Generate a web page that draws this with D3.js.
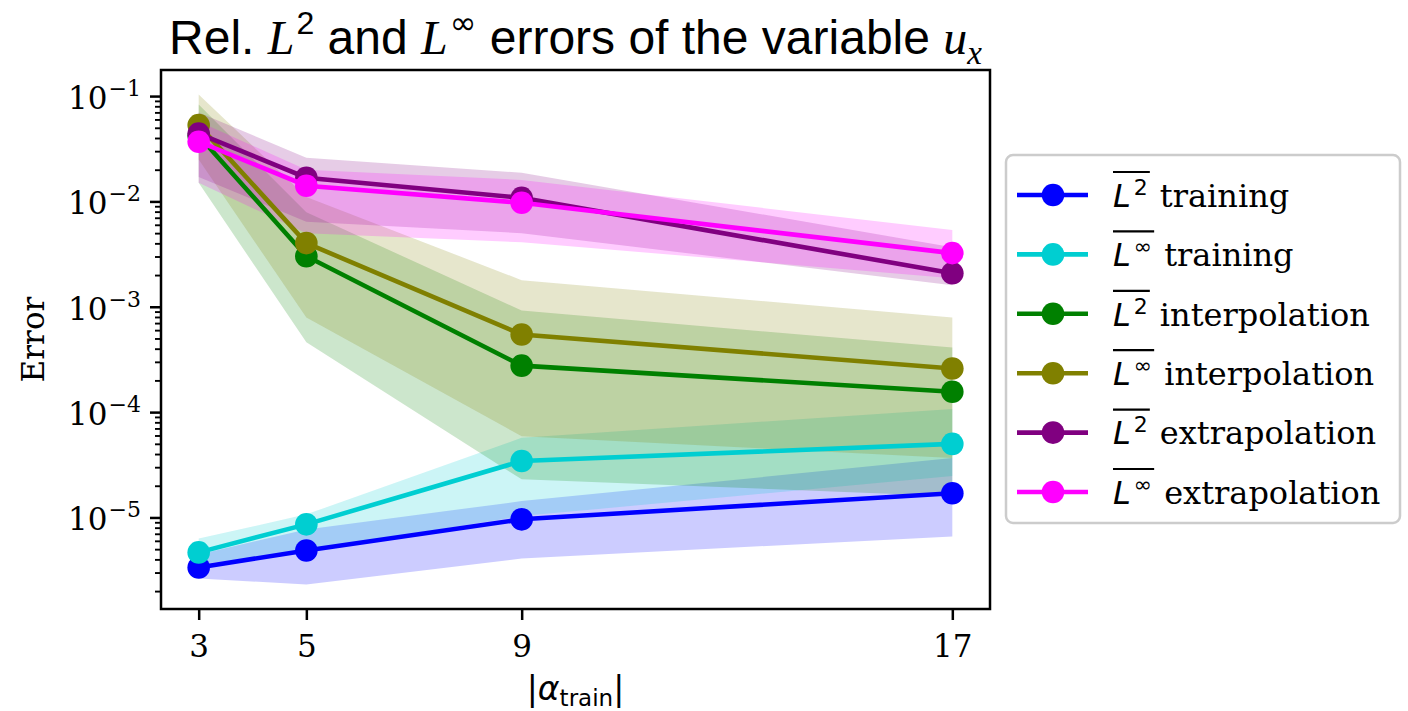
<!DOCTYPE html>
<html><head><meta charset="utf-8">
<script src="https://cdn.jsdelivr.net/npm/d3@7"></script>
<style>body{margin:0;background:#fff}</style>
</head><body>
<svg id="chart" width="1408" height="711" xmlns="http://www.w3.org/2000/svg"></svg>
<script>
// ---------------- data ----------------
const categories = [3, 5, 9, 17];
const xTickLabels = ["3", "5", "9", "17"];
const yTickExponents = [-1, -2, -3, -4, -5];
const seriesKinds = ["training", "training", "interpolation", "interpolation", "extrapolation", "extrapolation"];
const seriesNorms = ["2", "∞", "2", "∞", "2", "∞"];
const seriesColors = ["#0000ff", "#00ced1", "#008000", "#808000", "#800080", "#ff00ff"];

const l2Train      = [3.35e-6, 4.86e-6, 9.6e-6, 1.70e-5];
const l2TrainLo    = [2.63e-6, 2.31e-6, 4.08e-6, 6.6e-6];
const l2TrainHi    = [4.46e-6, 7.7e-6, 1.43e-5, 3.66e-5];

const linfTrain    = [4.66e-6, 8.6e-6, 3.43e-5, 4.99e-5];
const linfTrainLo  = [3.58e-6, 4.86e-6, 1.03e-5, 2.47e-5];
const linfTrainHi  = [6.3e-6, 1.07e-5, 5.7e-5, 1.07e-4];

const l2Interp     = [0.042, 3.02e-3, 2.76e-4, 1.56e-4];
const l2InterpLo   = [0.015, 4.6e-4, 2.3e-5, 1.59e-5];
const l2InterpHi   = [0.083, 7.9e-3, 9.2e-4, 4.1e-4];

const linfInterp   = [0.053, 4.02e-3, 5.46e-4, 2.59e-4];
const linfInterpLo = [0.025, 7.9e-4, 5.9e-5, 3.66e-5];
const linfInterpHi = [0.1035, 0.011, 1.79e-3, 7.9e-4];

const l2Extrap     = [0.044, 0.0168, 0.0108, 2.08e-3];
const l2ExtrapLo   = [0.0171, 6.4e-3, 5.0e-3, 1.6e-3];
const l2ExtrapHi   = [0.0697, 0.026, 0.0187, 3.68e-3];

const linfExtrap   = [0.0369, 0.0141, 9.7e-3, 3.23e-3];
const linfExtrapLo = [0.015, 5.0e-3, 4.1e-3, 1.87e-3];
const linfExtrapHi = [0.0573, 0.020, 0.016, 5.35e-3];

// table built from arrays
const series = [
  [l2Train, l2TrainLo, l2TrainHi],
  [linfTrain, linfTrainLo, linfTrainHi],
  [l2Interp, l2InterpLo, l2InterpHi],
  [linfInterp, linfInterpLo, linfInterpHi],
  [l2Extrap, l2ExtrapLo, l2ExtrapHi],
  [linfExtrap, linfExtrapLo, linfExtrapHi]
].map((s, i) => ({
  color: seriesColors[i], norm: seriesNorms[i], kind: seriesKinds[i],
  pts: categories.map((c, j) => ({x: c, v: s[0][j], lo: s[1][j], hi: s[2][j]}))
}));

// ---------------- layout ----------------
const L = 161, R = 990, T = 70, B = 609;
const svg = d3.select("#chart");

const xMin = d3.min(categories), xMax = d3.max(categories);
const xPad = 0.05 * (xMax - xMin);
const x = d3.scaleLinear().domain([xMin - xPad, xMax + xPad]).range([L, R]);

const allVals = series.flatMap(s => s.pts.flatMap(p => [p.lo, p.hi, p.v]));
const lMin = Math.log10(d3.min(allVals)), lMax = Math.log10(d3.max(allVals));
const lPad = 0.05 * (lMax - lMin);
const y = d3.scaleLog().domain([Math.pow(10, lMin - lPad), Math.pow(10, lMax + lPad)]).range([B, T]);

// clip
svg.append("defs").append("clipPath").attr("id", "clip")
  .append("rect").attr("x", L).attr("y", T).attr("width", R - L).attr("height", B - T);

const plot = svg.append("g").attr("clip-path", "url(#clip)");

// bands
const area = d3.area().x(d => x(d.x)).y0(d => y(d.lo)).y1(d => y(d.hi));
series.forEach(s => {
  plot.append("path").datum(s.pts).attr("d", area)
    .attr("fill", s.color).attr("fill-opacity", 0.2).attr("stroke", "none");
});
// lines + markers
const line = d3.line().x(d => x(d.x)).y(d => y(d.v));
series.forEach(s => {
  const g = plot.append("g");
  g.append("path").datum(s.pts).attr("d", line)
    .attr("fill", "none").attr("stroke", s.color).attr("stroke-width", 4.6);
  g.selectAll("circle").data(s.pts).join("circle")
    .attr("cx", d => x(d.x)).attr("cy", d => y(d.v)).attr("r", 11.3)
    .attr("fill", s.color);
});

// frame
svg.append("rect").attr("x", L).attr("y", T).attr("width", R - L).attr("height", B - T)
  .attr("fill", "none").attr("stroke", "#000").attr("stroke-width", 2.5);

// x axis
const xAxis = svg.append("g").attr("transform", `translate(0,${B})`)
  .call(d3.axisBottom(x).tickValues(categories).tickSize(11).tickPadding(15)
    .tickFormat((d, i) => xTickLabels[i]));
xAxis.select(".domain").remove();
xAxis.selectAll(".tick line").attr("stroke-width", 2.5);
xAxis.selectAll(".tick text").attr("font-family", "DejaVu Serif").attr("font-size", 31).attr("fill", "#000");

// y axis major
const majorVals = yTickExponents.map(e => Math.pow(10, e));
const yAxis = svg.append("g").attr("transform", `translate(${L},0)`)
  .call(d3.axisLeft(y).tickValues(majorVals).tickSize(11).tickFormat(""));
yAxis.select(".domain").remove();
yAxis.selectAll(".tick line").attr("stroke-width", 2.5);

// minor ticks
const [d0, d1] = y.domain();
const minorVals = [];
for (let e = Math.floor(Math.log10(d0)); e <= Math.ceil(Math.log10(d1)); e++) {
  for (let k = 2; k <= 9; k++) {
    const v = k * Math.pow(10, e);
    if (v >= d0 && v <= d1) minorVals.push(v);
  }
}
const yMinor = svg.append("g").attr("transform", `translate(${L},0)`)
  .call(d3.axisLeft(y).tickValues(minorVals).tickSize(6).tickFormat(""));
yMinor.select(".domain").remove();
yMinor.selectAll(".tick line").attr("stroke-width", 1.9);

// y tick labels 10^{e}
yTickExponents.forEach(e => {
  const yy = y(Math.pow(10, e));
  const t = svg.append("text").attr("x", 141).attr("y", yy + 13)
    .attr("text-anchor", "end").attr("font-family", "DejaVu Serif").attr("font-size", 31).attr("fill", "#000");
  t.append("tspan").text("10");
  t.append("tspan").attr("dy", -13).attr("dx", 1).attr("font-size", 22).text("\u2212" + Math.abs(e));
});

// axis labels
svg.append("text").attr("transform", `translate(44,${(T + B) / 2}) rotate(-90)`)
  .attr("text-anchor", "middle").attr("font-family", "DejaVu Serif").attr("font-size", 31).text("Error");

const xl = svg.append("text").attr("x", (L + R) / 2).attr("y", 700).attr("text-anchor", "middle")
  .attr("font-family", "DejaVu Sans").attr("font-size", 33);
xl.append("tspan").text("|");
xl.append("tspan").attr("font-style", "italic").text("α");
xl.append("tspan").attr("font-size", 23).attr("dy", 6).text("train");
xl.append("tspan").attr("dy", -6).text("|");

// title
const tt = svg.append("text").attr("x", (L + R) / 2).attr("y", 54).attr("text-anchor", "middle")
  .attr("font-family", "Liberation Sans").attr("font-size", 48).attr("fill", "#000");
tt.append("tspan").text("Rel. ");
tt.append("tspan").attr("font-family", "Liberation Serif").attr("font-style", "italic").text("L");
tt.append("tspan").attr("font-size", 32).attr("dy", -20).attr("dx", 2).text("2");
tt.append("tspan").attr("dy", 20).text(" and ");
tt.append("tspan").attr("font-family", "Liberation Serif").attr("font-style", "italic").text("L");
tt.append("tspan").attr("font-size", 32).attr("dy", -20).attr("dx", 2).attr("font-family", "DejaVu Sans").text("∞");
tt.append("tspan").attr("dy", 20).text(" errors of the variable ");
tt.append("tspan").attr("font-family", "Liberation Serif").attr("font-style", "italic").text("u");
tt.append("tspan").attr("font-family", "Liberation Serif").attr("font-style", "italic")
  .attr("font-size", 33).attr("dy", 10).text("x");

// legend
const lg = svg.append("g");
lg.append("rect").attr("x", 1006).attr("y", 155).attr("width", 394).attr("height", 368).attr("rx", 7)
  .attr("fill", "#fff").attr("stroke", "#cccccc").attr("stroke-width", 2.5);
series.forEach((s, i) => {
  const cy = 195 + i * 59.4;
  lg.append("line").attr("x1", 1017).attr("x2", 1088).attr("y1", cy).attr("y2", cy)
    .attr("stroke", s.color).attr("stroke-width", 4.6);
  lg.append("circle").attr("cx", 1053).attr("cy", cy).attr("r", 11.3).attr("fill", s.color);
  const m = lg.append("text").attr("x", 1113).attr("y", cy + 11.7)
    .attr("font-family", "DejaVu Sans").attr("font-size", 32).attr("fill", "#000");
  m.append("tspan").attr("font-style", "italic").text("L");
  m.append("tspan").attr("font-size", 22).attr("dy", -12).attr("dx", 3).text(s.norm);
  const w = m.node().getBBox().width;
  lg.append("line").attr("x1", 1113).attr("x2", 1113 + w + 2).attr("y1", cy - 23).attr("y2", cy - 23)
    .attr("stroke", "#000").attr("stroke-width", 2.2);
  lg.append("text").attr("x", 1113 + w + 12).attr("y", cy + 11.7)
    .attr("font-family", "DejaVu Serif").attr("font-size", 32).attr("fill", "#000").text(s.kind);
});
</script>
</body></html>
